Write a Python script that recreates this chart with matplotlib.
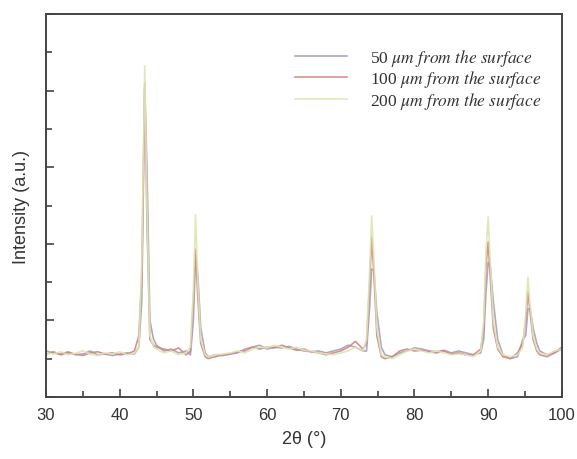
import matplotlib
matplotlib.use("Agg")
import matplotlib.pyplot as plt
from matplotlib.ticker import MultipleLocator

# 2-theta grid (deg), denser around the reflections
two_theta = [30, 31, 32, 33, 34, 35, 36, 37, 38, 39, 40, 41, 42,
             42.6, 43.0, 43.4, 43.7, 44.1, 44.6,
             45, 46, 47, 48, 49,
             49.6, 50.0, 50.3, 50.6, 51.0, 51.6,
             52, 53, 54, 55, 56, 57, 58, 59, 60, 61, 62, 63, 64, 65, 66, 67,
             68, 69, 70, 71, 72, 73,
             73.5, 73.9, 74.2, 74.5, 74.9, 75.5,
             76, 77, 78, 79, 80, 81, 82, 83, 84, 85, 86, 87, 88, 89,
             89.4, 89.7, 90.0, 90.3, 90.7, 91.3,
             92, 93, 94,
             94.7, 95.1, 95.4, 95.7, 96.1, 96.6,
             97, 98, 99, 100]

int_50 = [1.20, 1.15, 1.12, 1.18, 1.10, 1.12, 1.20, 1.10, 1.12, 1.08, 1.12, 1.15, 1.12,
          1.30, 2.50, 8.10, 6.00, 2.00, 1.50,
          1.35, 1.20, 1.25, 1.15, 1.20,
          1.10, 2.00, 3.70, 3.20, 1.80, 1.15,
          1.05, 1.10, 1.08, 1.12, 1.15, 1.25, 1.30, 1.35, 1.25, 1.30, 1.28, 1.32,
          1.25, 1.20, 1.18, 1.20, 1.15, 1.20, 1.25, 1.35, 1.30, 1.20,
          1.20, 2.30, 3.34, 3.30, 2.20, 1.30,
          1.10, 1.05, 1.15, 1.20, 1.28, 1.25, 1.20, 1.18, 1.22, 1.15, 1.20, 1.15, 1.10, 1.15,
          1.50, 2.70, 3.52, 3.40, 2.50, 1.50,
          1.10, 1.00, 1.05,
          1.50, 1.60, 2.30, 2.30, 1.80, 1.40,
          1.20, 1.10, 1.15, 1.25]

int_100 = [1.12, 1.18, 1.10, 1.15, 1.12, 1.08, 1.15, 1.18, 1.12, 1.15, 1.10, 1.12, 1.20,
           1.60, 3.20, 8.20, 4.60, 1.50, 1.35,
           1.30, 1.25, 1.20, 1.28, 1.10,
           1.20, 2.50, 3.86, 2.60, 1.40, 1.05,
           1.00, 1.05, 1.10, 1.12, 1.18, 1.20, 1.30, 1.25, 1.30, 1.28, 1.35, 1.28,
           1.22, 1.25, 1.18, 1.15, 1.10, 1.15, 1.20, 1.30, 1.45, 1.25,
           1.40, 2.90, 4.18, 3.20, 1.60, 1.05,
           1.00, 1.05, 1.20, 1.25, 1.20, 1.22, 1.18, 1.15, 1.20, 1.12, 1.15, 1.10, 1.10, 1.25,
           1.80, 3.40, 4.05, 3.10, 1.80, 1.25,
           1.05, 1.00, 1.15,
           1.40, 2.00, 2.74, 2.20, 1.50, 1.20,
           1.10, 1.05, 1.15, 1.30]

int_200 = [1.15, 1.12, 1.18, 1.10, 1.14, 1.20, 1.12, 1.08, 1.15, 1.12, 1.18, 1.10, 1.14,
           1.30, 3.50, 8.65, 5.00, 1.60, 1.30,
           1.25, 1.15, 1.20, 1.10, 1.15,
           1.30, 2.80, 4.76, 3.00, 1.50, 1.10,
           1.05, 1.10, 1.12, 1.15, 1.20, 1.15, 1.25, 1.30, 1.28, 1.35, 1.30, 1.25,
           1.30, 1.22, 1.20, 1.15, 1.12, 1.10, 1.15, 1.20, 1.30, 1.20,
           1.50, 3.20, 4.73, 3.60, 1.80, 1.10,
           1.05, 1.00, 1.10, 1.20, 1.25, 1.20, 1.15, 1.20, 1.15, 1.10, 1.12, 1.10, 1.05, 1.20,
           2.00, 3.80, 4.70, 3.50, 2.00, 1.30,
           1.10, 1.05, 1.10,
           1.30, 2.20, 3.13, 2.40, 1.60, 1.25,
           1.15, 1.10, 1.20, 1.25]

labels = [r"50 $\mathit{\mu m\ from\ the\ surface}$",
          r"100 $\mathit{\mu m\ from\ the\ surface}$",
          r"200 $\mathit{\mu m\ from\ the\ surface}$"]

plt.rcParams["font.family"] = ["Liberation Sans", "DejaVu Sans"]
plt.rcParams["mathtext.fontset"] = "stix"

fig = plt.figure(figsize=(5.77, 4.60), dpi=100)
ax = fig.add_axes([0.0797, 0.135, 0.894, 0.832])

ax.plot(two_theta, int_50, color="#a89cc0", lw=1.2, alpha=0.9, label=labels[0])
ax.plot(two_theta, int_100, color="#d08880", lw=1.2, alpha=0.9, label=labels[1])
ax.plot(two_theta, int_200, color="#dde5b2", lw=1.2, alpha=0.9, label=labels[2])

ax.set_xlim(30, 100)
ax.set_ylim(0, 10)
ax.xaxis.set_major_locator(MultipleLocator(10))
ax.xaxis.set_minor_locator(MultipleLocator(5))
ax.yaxis.set_major_locator(MultipleLocator(2))
ax.yaxis.set_minor_locator(MultipleLocator(1))
ax.tick_params(which="both", direction="in", top=False, right=False,
               color="#444444", width=1.2)
ax.tick_params(which="major", length=6)
ax.tick_params(which="minor", length=4)
ax.tick_params(axis="x", labelsize=12, pad=7, labelcolor="#333333")
ax.set_yticklabels([])
for sp in ax.spines.values():
    sp.set_color("#444444")
    sp.set_linewidth(1.4)

ax.set_xlabel("2θ (°)", fontsize=13, color="#333333", labelpad=6)
ax.set_ylabel("Intensity (a.u.)", fontsize=13, color="#333333", labelpad=8)

ax.legend(loc="upper right", bbox_to_anchor=(0.99, 0.955), frameon=False,
          prop={"family": "Liberation Serif", "size": 12.5},
          handlelength=3.0, handletextpad=1.3, labelspacing=0.02,
          labelcolor="#333333")

fig.savefig("out.png", dpi=100)
